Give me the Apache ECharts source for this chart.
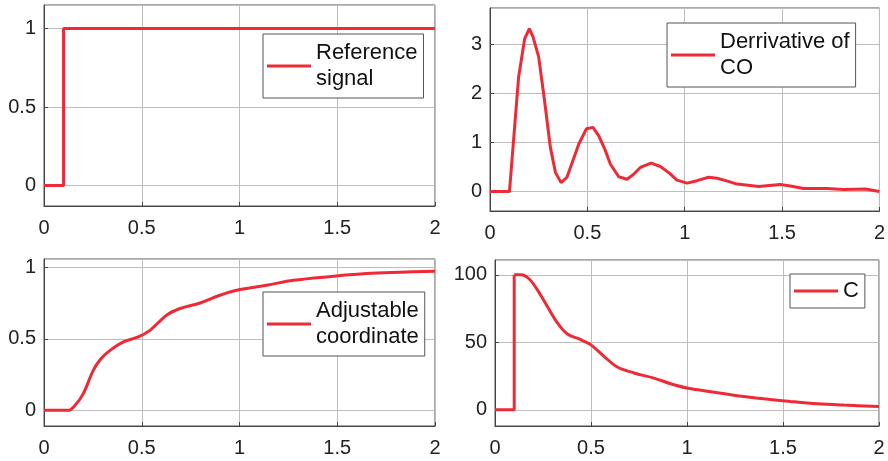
<!DOCTYPE html>
<html>
<head>
<meta charset="utf-8">
<script src="https://cdn.jsdelivr.net/npm/echarts@6/dist/echarts.min.js"></script>
<style>html,body{margin:0;padding:0;background:#fff}#c{width:888px;height:461px}</style>
</head>
<body>
<div id="c"></div>
<script>
// ---- data ----
const xTicks = [0, 0.5, 1, 1.5, 2];
const names = ['Reference signal', 'Derrivative of CO', 'Adjustable coordinate', 'C'];
const legendLabels = ['Reference\nsignal', 'Derrivative of\nCO', 'Adjustable\ncoordinate', 'C'];

const t1 = [0, 0.1, 0.1, 2];
const y1 = [0, 0, 1, 1];

const t2 = [0, 0.1, 0.147, 0.178, 0.202, 0.221, 0.25, 0.28, 0.31, 0.336, 0.365, 0.395, 0.425, 0.456, 0.495, 0.529, 0.558, 0.59, 0.618, 0.661, 0.704, 0.74, 0.772, 0.827, 0.875, 0.92, 0.96, 1.012, 1.063, 1.123, 1.166, 1.22, 1.269, 1.38, 1.49, 1.543, 1.61, 1.73, 1.817, 1.928, 2];
const y2 = [0, 0, 2.34, 3.12, 3.33, 3.16, 2.75, 1.86, 0.9, 0.39, 0.18, 0.29, 0.62, 0.97, 1.28, 1.31, 1.14, 0.86, 0.56, 0.30, 0.25, 0.36, 0.49, 0.58, 0.51, 0.38, 0.23, 0.17, 0.22, 0.29, 0.27, 0.21, 0.15, 0.10, 0.14, 0.11, 0.06, 0.06, 0.04, 0.05, 0.0];

const t3 = [0, 0.124, 0.159, 0.201, 0.252, 0.29, 0.338, 0.406, 0.482, 0.542, 0.627, 0.696, 0.798, 0.9, 1.003, 1.139, 1.275, 1.48, 1.65, 1.82, 2];
const y3 = [0, 0, 0.035, 0.117, 0.28, 0.36, 0.42, 0.48, 0.514, 0.56, 0.666, 0.713, 0.752, 0.806, 0.846, 0.876, 0.911, 0.939, 0.958, 0.967, 0.974];

const t4a = [0, 0.1, 0.1];
const y4a = [0, 0, 100];
const t4 = [0.1, 0.134, 0.177, 0.22, 0.272, 0.325, 0.377, 0.446, 0.498, 0.568, 0.637, 0.724, 0.828, 0.915, 1.0, 1.123, 1.262, 1.40, 1.54, 1.679, 1.818, 2];
const y4 = [100, 100, 97.1, 89, 76.7, 64.4, 56.2, 52, 48.3, 39.6, 31.7, 27.3, 23.5, 19.3, 16.1, 13.4, 10.4, 8.2, 6.2, 4.5, 3.5, 2.5];

const yRanges = [[-0.13, 1.15], [-0.4, 3.75], [-0.11, 1.06], [-12, 111]];
const ySplit = [3, 4, 2, 3];

// ---- layout / style ----
const RED = '#EE2A36';
const FONT = 'Liberation Sans, Arial, sans-serif';
const grids = [
  {left: 44, top: 5, width: 391, height: 201},
  {left: 490, top: 8, width: 390, height: 203},
  {left: 44, top: 259, width: 391, height: 167},
  {left: 495, top: 260, width: 384, height: 166}
];
const legendPos = [
  {left: 263, top: 34},
  {left: 667, top: 23},
  {left: 263, top: 292},
  {left: 790, top: 274}
];
const pairs = (t, y) => t.map((v, i) => [v, y[i]]);
const seriesData = [pairs(t1, y1), pairs(t2, y2), pairs(t3, y3), pairs(t4, y4)];
const smooth = [false, false, 0.35, 0.35];

const series = seriesData.map((d, i) => ({
  name: names[i], type: 'line', xAxisIndex: i, yAxisIndex: i,
  data: d, showSymbol: false, symbol: 'none',
  smooth: smooth[i],
  itemStyle: {color: RED},
  lineStyle: {color: RED, width: 3}
}));
series.push({
  name: 'C step', type: 'line', xAxisIndex: 3, yAxisIndex: 3,
  data: pairs(t4a, y4a), showSymbol: false, symbol: 'none',
  itemStyle: {color: RED}, lineStyle: {color: RED, width: 3}
});

const option = {
  animation: false,
  backgroundColor: '#fff',
  grid: grids.map(g => Object.assign({show: true, borderColor: '#555', borderWidth: 1, backgroundColor: '#fff'}, g)),
  xAxis: grids.map((g, i) => ({
    type: 'value', gridIndex: i, min: 0, max: 2, interval: 0.5,
    axisLine: {show: true, onZero: false, lineStyle: {color: '#444', width: 1}},
    axisTick: {show: true, inside: true, length: 4, lineStyle: {color: '#444'}},
    splitLine: {show: true, lineStyle: {color: '#bdbdbd', width: 1}},
    axisLabel: {color: '#222', fontSize: 20, fontFamily: FONT, margin: 12,
      formatter: v => String(v)}
  })),
  yAxis: grids.map((g, i) => ({
    type: 'value', gridIndex: i, min: yRanges[i][0], max: yRanges[i][1], splitNumber: ySplit[i],
    axisLine: {show: true, onZero: false, lineStyle: {color: '#444', width: 1}},
    axisTick: {show: true, inside: true, length: 4, lineStyle: {color: '#444'}},
    splitLine: {show: true, lineStyle: {color: '#bdbdbd', width: 1}},
    axisLabel: {color: '#222', fontSize: 20, fontFamily: FONT, margin: 8,
      showMinLabel: false, showMaxLabel: false, formatter: v => String(v)}
  })),
  legend: legendPos.map((p, i) => ({
    left: p.left, top: p.top, orient: 'vertical',
    data: [names[i]],
    formatter: () => legendLabels[i],
    icon: 'rect', itemWidth: 44, itemHeight: 3,
    padding: i === 3 ? [4, 6, 4, 4] : [6, 6, 6, 4],
    backgroundColor: '#fff', borderColor: '#555', borderWidth: 1, borderRadius: 0,
    selectedMode: false,
    textStyle: {color: '#111', fontSize: 22, fontFamily: FONT, lineHeight: 26}
  })),
  series: series
};
const chart = echarts.init(document.getElementById('c'), null, {renderer: 'canvas'});
chart.setOption(option);
</script>
</body>
</html>
